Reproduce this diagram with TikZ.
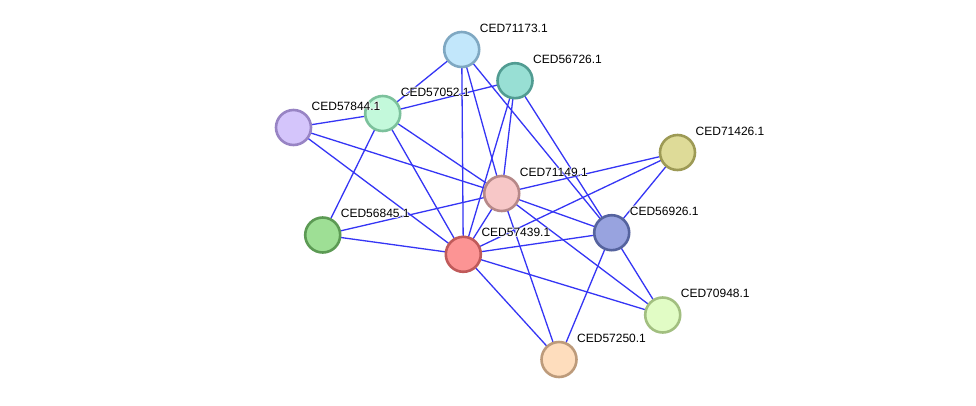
\documentclass[tikz,border=0pt]{standalone}
\usepackage{fontspec}
\setmainfont{Liberation Sans}
\definecolor{edgec}{HTML}{3535F5}
\definecolor{fA}{HTML}{C2E7FB}\definecolor{bA}{HTML}{7FA8C2}
\definecolor{fB}{HTML}{98DFD4}\definecolor{bB}{HTML}{519C92}
\definecolor{fC}{HTML}{C3F9DB}\definecolor{bC}{HTML}{7CC19C}
\definecolor{fD}{HTML}{D4C5FB}\definecolor{bD}{HTML}{9884C4}
\definecolor{fE}{HTML}{F7C7C7}\definecolor{bE}{HTML}{B68888}
\definecolor{fF}{HTML}{DEDB98}\definecolor{bF}{HTML}{9D9A55}
\definecolor{fG}{HTML}{98A3DF}\definecolor{bG}{HTML}{55639E}
\definecolor{fH}{HTML}{FC9494}\definecolor{bH}{HTML}{C05A5A}
\definecolor{fI}{HTML}{9EDF95}\definecolor{bI}{HTML}{5C9A54}
\definecolor{fJ}{HTML}{E1FCC5}\definecolor{bJ}{HTML}{A2BF80}
\definecolor{fK}{HTML}{FEDDBD}\definecolor{bK}{HTML}{BD9B7B}
\newcommand\halotext[1]{\leavevmode\rlap{\color{white}\hspace{-0.8pt}#1}\rlap{\color{white}\hspace{0.8pt}#1}\rlap{\color{white}\raisebox{0.8pt}{#1}}\rlap{\color{white}\raisebox{-0.8pt}{#1}}#1}
\tikzset{
  prot/.style={circle, draw=#1, line width=2.6pt, minimum size=35pt, inner sep=0pt},
  lbl/.style={anchor=west, inner sep=0pt, font=\fontsize{12pt}{14pt}\selectfont, text=black},
  link/.style={draw=edgec, line width=1.3pt}
}
\begin{document}
\begin{tikzpicture}[x=1pt, y=-1pt]
\useasboundingbox[fill=white] (0,0) rectangle (976,405);
% coordinates of nodes
\coordinate (pA) at (461.7,49.5);
\coordinate (pB) at (515,80.7);
\coordinate (pC) at (382.7,113.5);
\coordinate (pD) at (293.5,127.5);
\coordinate (pE) at (501.7,193.5);
\coordinate (pF) at (677.5,152.5);
\coordinate (pG) at (611.7,232.7);
\coordinate (pH) at (463.3,254.3);
\coordinate (pI) at (322.7,235);
\coordinate (pJ) at (662.7,315);
\coordinate (pK) at (559,359.5);
% edges
\foreach \a/\b in {A/C,A/H,A/E,A/G,B/C,B/E,B/H,B/G,C/D,C/I,C/H,C/E,D/E,D/H,E/F,E/I,E/H,E/G,E/J,E/K,F/H,F/G,I/H,H/G,H/J,H/K,G/J,G/K}
  \path[link] (p\a) -- (p\b);
% nodes
\node[prot=bA, fill=fA] (A) at (pA) {};
\node[prot=bB, fill=fB] (B) at (pB) {};
\node[prot=bC, fill=fC] (C) at (pC) {};
\node[prot=bD, fill=fD] (D) at (pD) {};
\node[prot=bE, fill=fE] (E) at (pE) {};
\node[prot=bF, fill=fF] (F) at (pF) {};
\node[prot=bG, fill=fG] (G) at (pG) {};
\node[prot=bH, fill=fH] (H) at (pH) {};
\node[prot=bI, fill=fI] (I) at (pI) {};
\node[prot=bJ, fill=fJ] (J) at (pJ) {};
\node[prot=bK, fill=fK] (K) at (pK) {};
% labels
\node[lbl] (lA) at ([shift={(18,-21.5)}]pA) {\halotext{CED71173.1}};
\node[lbl] (lB) at ([shift={(18,-21.5)}]pB) {\halotext{CED56726.1}};
\node[lbl] (lC) at ([shift={(18,-21.5)}]pC) {\halotext{CED57052.1}};
\node[lbl] (lD) at ([shift={(18,-21.5)}]pD) {\halotext{CED57844.1}};
\node[lbl] (lE) at ([shift={(18,-21.5)}]pE) {\halotext{CED71149.1}};
\node[lbl] (lF) at ([shift={(18,-21.5)}]pF) {\halotext{CED71426.1}};
\node[lbl] (lG) at ([shift={(18,-21.5)}]pG) {\halotext{CED56926.1}};
\node[lbl] (lH) at ([shift={(18,-21.5)}]pH) {\halotext{CED57439.1}};
\node[lbl] (lI) at ([shift={(18,-21.5)}]pI) {\halotext{CED56845.1}};
\node[lbl] (lJ) at ([shift={(18,-21.5)}]pJ) {\halotext{CED70948.1}};
\node[lbl] (lK) at ([shift={(18,-21.5)}]pK) {\halotext{CED57250.1}};
\end{tikzpicture}
\end{document}
